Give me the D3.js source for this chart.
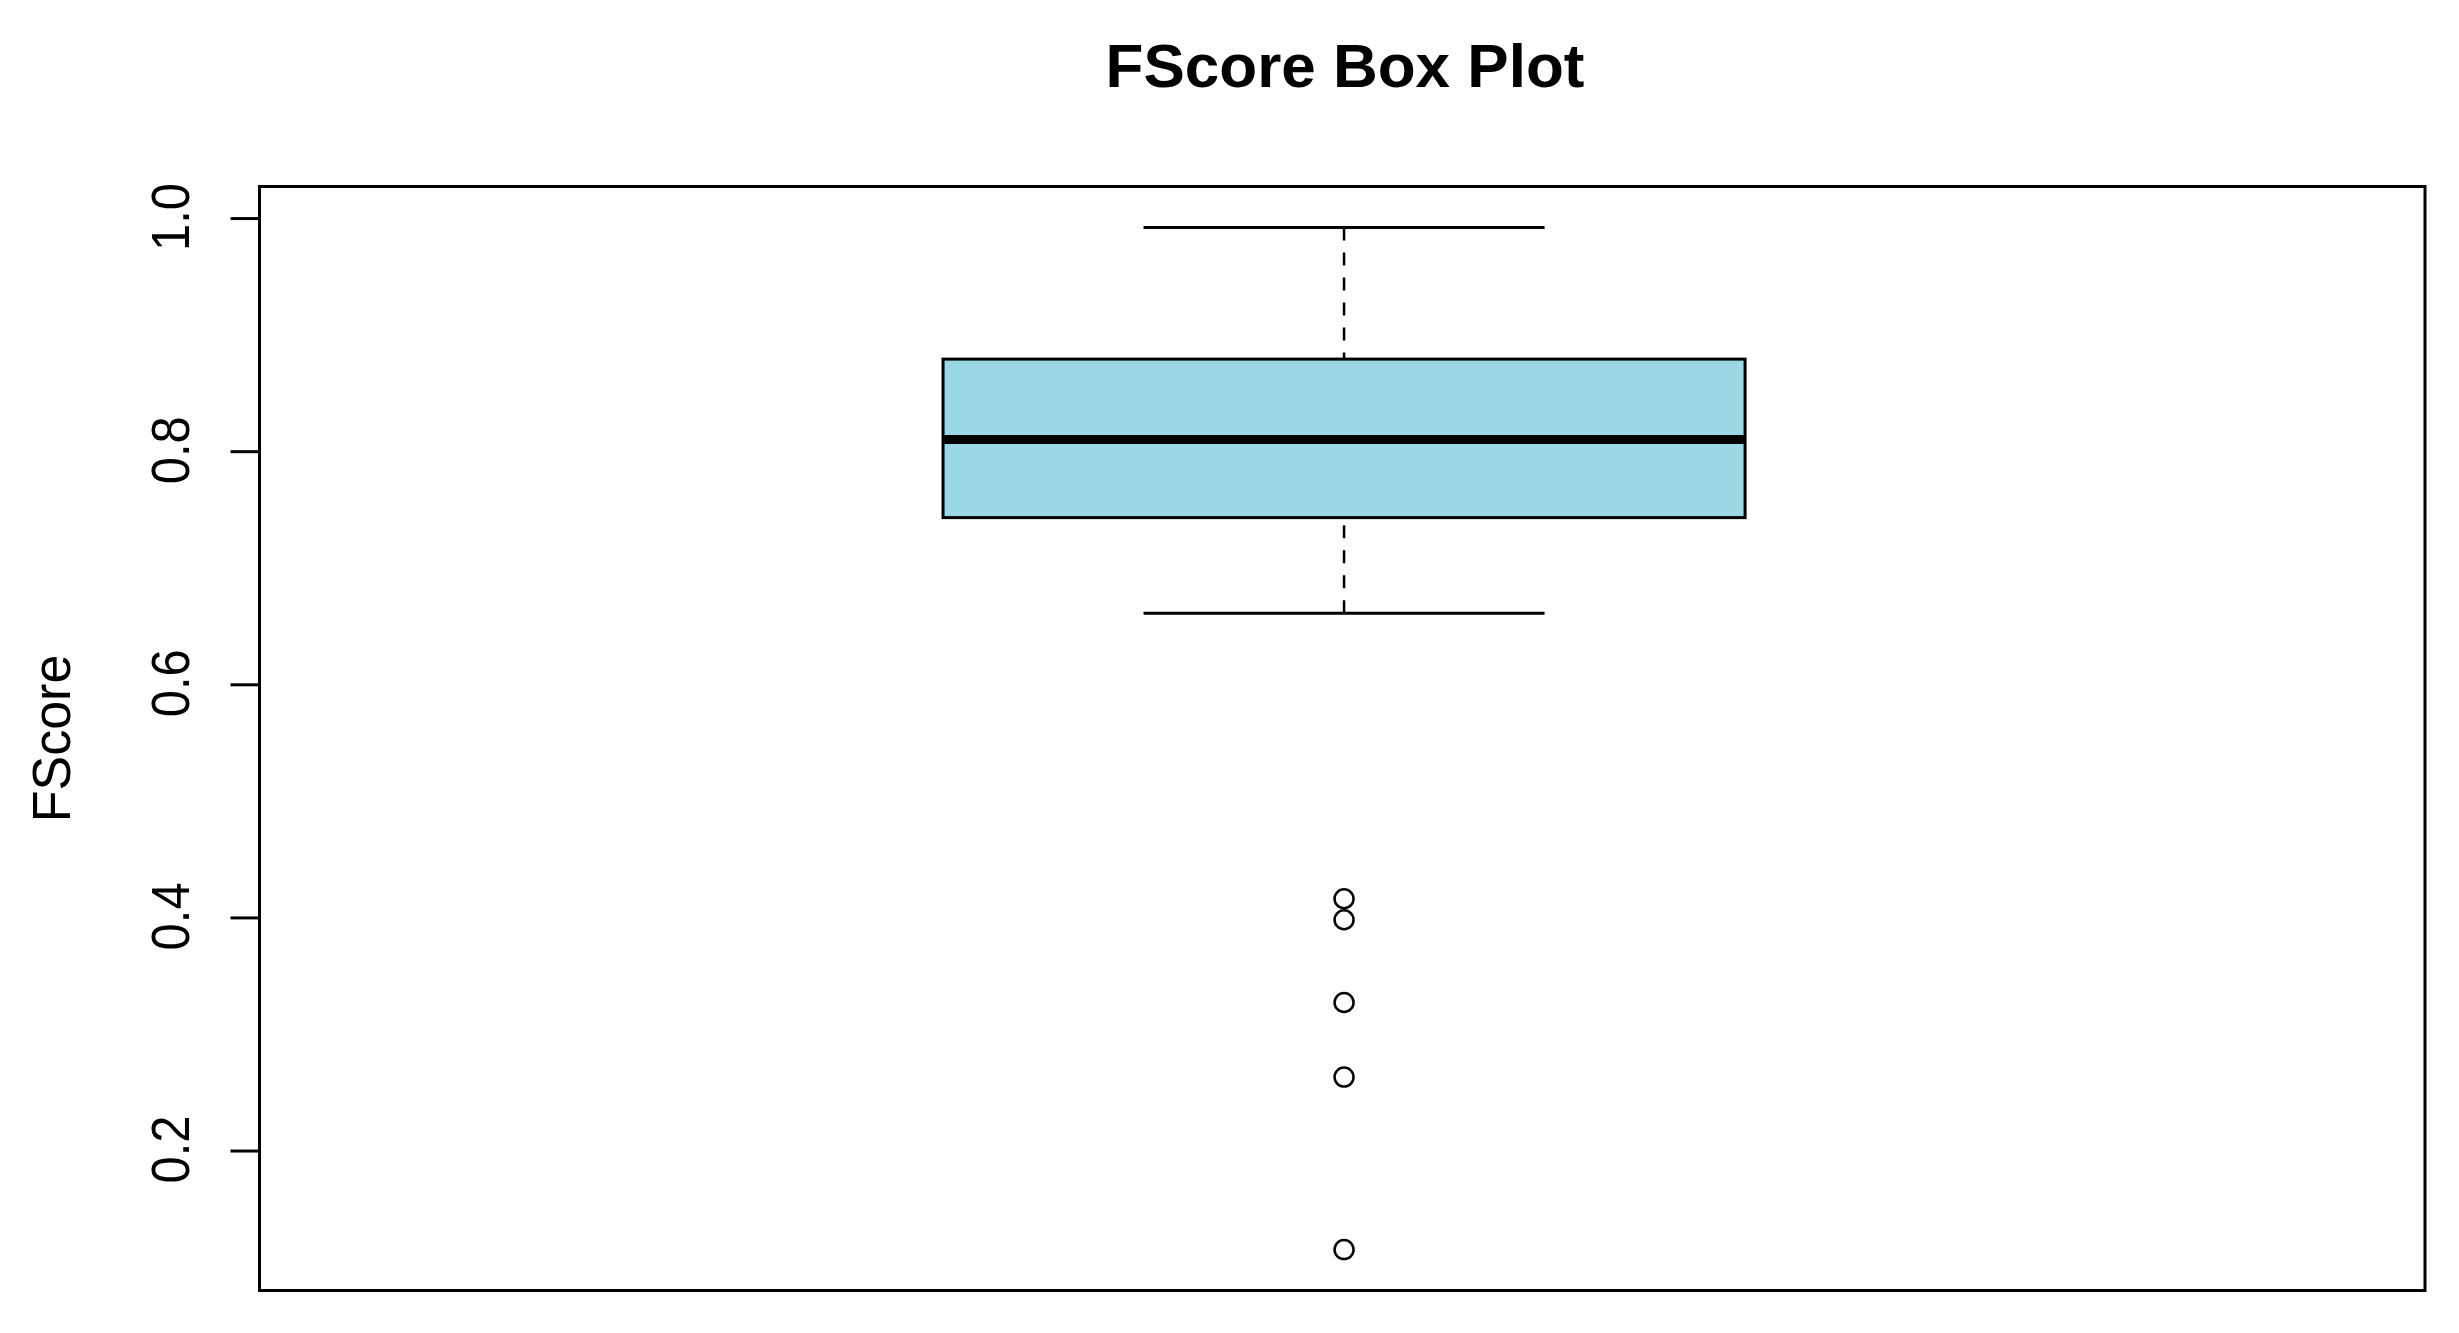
<!DOCTYPE html>
<html>
<head>
<meta charset="utf-8">
<script src="https://cdn.jsdelivr.net/npm/d3@7"></script>
<style>
  html, body { margin: 0; padding: 0; background: #fff; }
  svg { display: block; }
  text { font-family: "Liberation Sans", Arial, sans-serif; fill: #000; }
</style>
</head>
<body>
<svg id="chart" width="2459" height="1333"></svg>
<script>
// ---- data ----
const categories = ["FScore"];
const whiskerLow = [0.661];
const q1 = [0.743];
const median = [0.810];
const q3 = [0.879];
const whiskerHigh = [0.992];
const outliers = [0.416, 0.398, 0.327, 0.263, 0.115];
const yTicks = [0.2, 0.4, 0.6, 0.8, 1.0];
const yTickLabels = ["0.2", "0.4", "0.6", "0.8", "1.0"];
const title = "FScore Box Plot";
const yLabel = "FScore";

// ---- layout ----
const W = 2459, H = 1333;
const plot = { left: 259.5, right: 2425, top: 186.5, bottom: 1290.5 };
const svg = d3.select("#chart");

const dataMin = d3.min([...outliers, ...whiskerLow]);
const dataMax = d3.max([...outliers, ...whiskerHigh]);
const pad = (dataMax - dataMin) * 0.04;
const y = d3.scaleLinear().domain([dataMin - pad, dataMax + pad]).range([plot.bottom, plot.top]);
const x = d3.scaleLinear().domain([0.4591, 1.5391]).range([plot.left, plot.right]);
const boxWidth = 0.4;

// frame
svg.append("rect")
  .attr("x", plot.left).attr("y", plot.top)
  .attr("width", plot.right - plot.left).attr("height", plot.bottom - plot.top)
  .attr("fill", "none").attr("stroke", "#000").attr("stroke-width", 3);

// y axis (ticks only, no domain line)
const axis = svg.append("g")
  .attr("transform", `translate(${plot.left},0)`)
  .call(d3.axisLeft(y).tickValues(yTicks).tickSize(29).tickFormat(() => ""));
axis.select(".domain").remove();
axis.selectAll(".tick line").attr("stroke", "#000").attr("stroke-width", 3);

// tick labels (rotated)
svg.selectAll(".ylab").data(yTicks).enter().append("text")
  .attr("class", "ylab")
  .attr("transform", d => `translate(189,${y(d) - 1}) rotate(-90) scale(1,1.11)`)
  .attr("text-anchor", "middle")
  .style("font-size", "49px")
  .text((d, i) => yTickLabels[i]);

// y axis title
svg.append("text")
  .attr("transform", `translate(70,${(plot.top + plot.bottom) / 2}) rotate(-90) scale(1,1.04)`)
  .attr("text-anchor", "middle")
  .style("font-size", "52px")
  .text(yLabel);

// main title
svg.append("text")
  .attr("x", 1345).attr("y", 87)
  .attr("text-anchor", "middle")
  .style("font-size", "62px").style("font-weight", "bold")
  .text(title);

// boxes
categories.forEach((c, i) => {
  const cx = i + 1;
  const g = svg.append("g");
  // whiskers (dashed)
  g.append("line")
    .attr("x1", x(cx)).attr("x2", x(cx))
    .attr("y1", y(whiskerHigh[i])).attr("y2", y(q3[i]))
    .attr("stroke", "#000").attr("stroke-width", 2.5).attr("stroke-dasharray", "13,12");
  g.append("line")
    .attr("x1", x(cx)).attr("x2", x(cx))
    .attr("y1", y(whiskerLow[i])).attr("y2", y(q1[i]))
    .attr("stroke", "#000").attr("stroke-width", 2.5).attr("stroke-dasharray", "13,12");
  // staples
  [whiskerHigh[i], whiskerLow[i]].forEach(v => {
    g.append("line")
      .attr("x1", x(cx - boxWidth / 4)).attr("x2", x(cx + boxWidth / 4))
      .attr("y1", y(v)).attr("y2", y(v))
      .attr("stroke", "#000").attr("stroke-width", 3);
  });
  // box
  g.append("rect")
    .attr("x", x(cx - boxWidth / 2)).attr("y", y(q3[i]))
    .attr("width", x(cx + boxWidth / 2) - x(cx - boxWidth / 2))
    .attr("height", y(q1[i]) - y(q3[i]))
    .attr("fill", "#9ad8e6").attr("stroke", "#000").attr("stroke-width", 3);
  // median
  g.append("line")
    .attr("x1", x(cx - boxWidth / 2)).attr("x2", x(cx + boxWidth / 2))
    .attr("y1", y(median[i])).attr("y2", y(median[i]))
    .attr("stroke", "#000").attr("stroke-width", 9);
  // outliers
  g.selectAll("circle").data(outliers).enter().append("circle")
    .attr("cx", x(cx)).attr("cy", d => y(d)).attr("r", 9.5)
    .attr("fill", "none").attr("stroke", "#000").attr("stroke-width", 2.5);
});
</script>
</body>
</html>
